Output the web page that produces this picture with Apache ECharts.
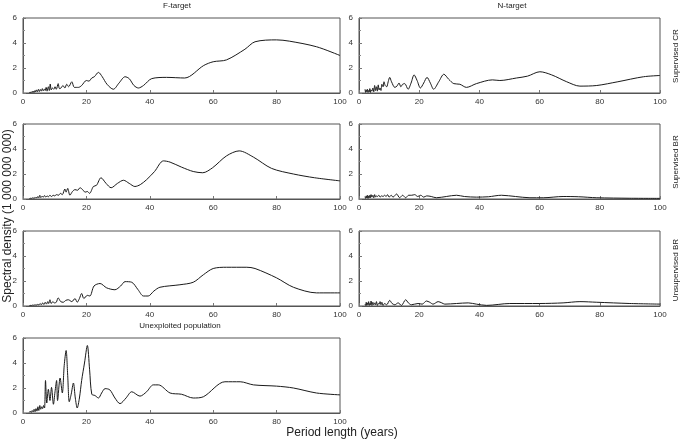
<!DOCTYPE html>
<html><head><meta charset="utf-8">
<script src="https://cdn.jsdelivr.net/npm/echarts@6/dist/echarts.min.js"></script>
<style>html,body{margin:0;padding:0;background:#fff}#c{width:684px;height:443px}</style>
</head><body><div id="c"></div>
<script>
const xTicks = [0, 20, 40, 60, 80, 100];
const yTicks = [0, 2, 4, 6];
const colTitles = ['F-target', 'N-target'];
const rowTitles = ['Supervised CR', 'Supervised BR', 'Unsupervised BR'];
const bottomTitle = 'Unexploited population';
const xTitle = 'Period length (years)';
const yTitle = 'Spectral density (1 000 000 000)';

const fTargetSupCR = [[2,0.02],[2.2,0.08],[2.4,0.03],[2.6,0.1],[2.8,0.04],[3,0.12],[3.2,0.05],[3.4,0.15],[3.6,0.06],[3.8,0.2],[4,0.08],[4.3,0.25],[4.6,0.1],[4.9,0.3],[5.2,0.12],[5.5,0.28],[5.8,0.15],[6.1,0.35],[6.4,0.18],[6.7,0.3],[7,0.2],[7.3,0.45],[7.6,0.15],[8,0.5],[8.3,0.2],[8.6,0.72],[8.9,0.25],[9.3,0.4],[9.7,0.3],[10.1,0.5],[10.5,0.3],[11.1,0.75],[11.5,0.35],[12,0.4],[12.6,0.6],[13.2,0.4],[13.8,0.7],[14.4,0.5],[15.4,0.9],[16.2,0.45],[17.5,0.45],[18.5,0.6],[20,1.0],[20.8,0.95],[21.7,1.2],[22.5,1.3],[23.8,1.65],[25,1.3],[26.5,0.7],[28.5,0.3],[30.3,0.8],[32.2,1.3],[33.5,1.15],[35,0.6],[36.4,0.4],[38,0.6],[40.6,1.15],[45.3,1.25],[51,1.2],[57,2.2],[60,2.5],[64.2,2.65],[70,3.5],[73.2,4.1],[80,4.25],[84,4.15],[92.6,3.7],[100,3.0]];
const nTargetSupCR = [[2,0.3],[2.2,0.05],[2.4,0.25],[2.6,0.1],[2.8,0.3],[3,0.05],[3.2,0.2],[3.4,0.1],[3.6,0.35],[3.8,0.05],[4,0.25],[4.3,0.15],[4.6,0.4],[4.9,0.1],[5.2,0.6],[5.5,0.2],[5.8,0.5],[6.1,0.15],[6.4,0.65],[6.7,0.25],[7,0.4],[7.3,0.2],[7.6,0.7],[8,0.5],[8.3,0.9],[8.7,0.6],[9.2,0.5],[9.7,0.9],[10.2,1.25],[10.8,0.9],[11.9,0.45],[12.6,0.55],[13.3,0.8],[13.9,0.5],[14.5,0.7],[15.2,0.75],[16.3,0.3],[17.3,0.8],[18.3,1.45],[19.3,1.0],[20.4,0.4],[21.5,0.8],[22.6,1.25],[23.7,0.8],[24.8,0.3],[26.5,0.9],[28.2,1.5],[29.8,1.1],[31.5,0.75],[33.5,0.7],[35.7,0.45],[39,0.75],[44.3,1.05],[46.8,1.0],[52.3,1.2],[56,1.35],[60.1,1.7],[64,1.45],[69,0.9],[73.4,0.55],[79,0.6],[86,0.9],[94.5,1.3],[100,1.4]];
const fTargetSupBR = [[2,0.02],[2.3,0.06],[2.6,0.03],[2.9,0.1],[3.2,0.05],[3.5,0.12],[3.8,0.06],[4.1,0.15],[4.4,0.08],[4.7,0.2],[5,0.1],[5.3,0.3],[5.6,0.12],[6,0.22],[6.4,0.15],[6.8,0.28],[7.2,0.15],[7.6,0.25],[8,0.18],[8.5,0.3],[9,0.2],[9.5,0.3],[10,0.25],[10.6,0.35],[11.2,0.3],[11.8,0.45],[12.4,0.35],[13.2,0.8],[13.6,0.55],[14.1,0.85],[14.8,0.3],[15.6,0.6],[16.4,0.75],[17.2,0.7],[18,0.9],[18.8,0.75],[19.6,0.55],[20.3,0.6],[21,0.45],[22.2,1.0],[23.2,1.1],[24.6,1.7],[26.2,1.25],[27.8,0.9],[29.8,1.25],[31.7,1.5],[33.5,1.25],[35.3,1.0],[37,1.15],[39,1.55],[41.5,2.2],[44.3,3.05],[46.4,2.95],[50,2.55],[53.7,2.2],[56.7,2.1],[59.8,2.5],[64.2,3.45],[68.2,3.85],[72.7,3.35],[78.4,2.45],[85.3,2.0],[92,1.7],[100,1.45]];
const nTargetSupBR = [[2,0.2],[2.2,0.05],[2.4,0.25],[2.6,0.08],[2.8,0.3],[3,0.05],[3.2,0.25],[3.4,0.1],[3.6,0.3],[3.8,0.1],[4,0.35],[4.3,0.15],[4.6,0.3],[4.9,0.1],[5.2,0.35],[5.5,0.15],[5.8,0.25],[6.2,0.2],[6.6,0.3],[7,0.15],[7.5,0.25],[8,0.2],[8.5,0.3],[9,0.2],[9.5,0.35],[10,0.15],[10.7,0.3],[11.3,0.15],[12.5,0.4],[13.5,0.1],[14.5,0.3],[15.5,0.1],[16.5,0.3],[17.5,0.3],[18.5,0.35],[19.5,0.2],[20.5,0.3],[21.5,0.15],[22.5,0.25],[24,0.2],[25.7,0.1],[29,0.2],[32.4,0.3],[35,0.2],[39,0.15],[43,0.18],[47.3,0.3],[52,0.2],[56.8,0.1],[61.2,0.1],[67.8,0.2],[73,0.18],[79,0.1],[90,0.06],[100,0.05]];
const fTargetUnsBR = [[2,0.02],[2.3,0.05],[2.6,0.03],[2.9,0.08],[3.2,0.04],[3.5,0.1],[3.8,0.05],[4.1,0.12],[4.4,0.06],[4.7,0.15],[5,0.08],[5.4,0.2],[5.8,0.1],[6.2,0.25],[6.6,0.12],[7,0.3],[7.4,0.15],[7.8,0.35],[8.1,0.2],[8.5,0.5],[8.9,0.2],[9.4,0.35],[9.9,0.25],[10.5,0.3],[11.1,0.65],[11.9,0.35],[12.7,0.3],[13.5,0.45],[14.3,0.5],[15.4,0.35],[16.4,0.6],[17.1,0.3],[17.8,0.6],[18.5,1.0],[19.2,0.6],[20.3,0.85],[21.1,0.8],[22.4,1.6],[24.3,1.8],[26.4,1.45],[29,1.3],[30.8,1.6],[32.2,1.95],[34.3,1.9],[36.3,1.3],[38,0.8],[39.5,0.8],[41.3,1.2],[43.2,1.5],[49.5,1.7],[53.7,1.9],[56.9,2.5],[60,3.0],[64.2,3.1],[70.6,3.1],[73.2,3.0],[80,2.25],[85.3,1.5],[92.6,1.05],[100,1.05]];
const nTargetUnsBR = [[2,0.15],[2.2,0.05],[2.4,0.3],[2.6,0.05],[2.8,0.25],[3,0.1],[3.2,0.35],[3.4,0.05],[3.6,0.2],[3.8,0.1],[4,0.4],[4.3,0.05],[4.6,0.3],[4.9,0.1],[5.2,0.25],[5.5,0.1],[5.8,0.35],[6.1,0.05],[6.4,0.2],[6.7,0.15],[7,0.35],[7.3,0.1],[7.6,0.3],[8,0.05],[8.5,0.2],[9.2,0.1],[10.2,0.45],[11,0.2],[11.9,0.1],[13,0.25],[14.1,0.05],[15.5,0.5],[16.4,0.25],[17.4,0.1],[19.6,0.2],[21,0.15],[22.4,0.4],[23.5,0.3],[24.6,0.15],[26.3,0.35],[27.5,0.25],[28.5,0.15],[32.4,0.2],[36.3,0.25],[39,0.15],[42.4,0.05],[50.1,0.2],[60,0.2],[67.8,0.25],[73.4,0.35],[79,0.3],[90,0.2],[100,0.15]];
const unexploited = [[2,0.05],[2.3,0.15],[2.6,0.05],[2.9,0.2],[3.2,0.08],[3.5,0.3],[3.8,0.1],[4.1,0.35],[4.4,0.15],[4.7,0.5],[5,0.2],[5.3,0.6],[5.6,0.3],[5.9,0.5],[6.2,0.35],[6.5,0.6],[6.8,0.4],[7.1,2.6],[7.5,0.8],[8,1.9],[8.5,1.0],[9,2.05],[9.6,0.7],[10.1,1.7],[10.6,2.6],[10.9,1.0],[11.7,2.8],[12.4,1.6],[13,3.8],[13.6,5.0],[14.1,3.0],[14.6,0.9],[15.2,1.5],[15.9,2.4],[16.5,1.2],[17.1,0.4],[17.8,1.2],[18.5,2.6],[19.4,4.0],[20.3,5.4],[21,3.5],[21.7,1.5],[22.7,1.4],[23.8,1.2],[24.8,1.6],[25.9,1.95],[27.4,1.85],[29,1.2],[30.6,0.75],[32.5,1.2],[34.3,1.7],[36.9,1.35],[39,1.7],[41.1,2.25],[42.7,2.25],[46.4,1.6],[50,1.5],[53.7,1.2],[56.9,1.3],[63.7,2.5],[68.5,2.5],[72.7,2.25],[80,2.15],[85.3,2.0],[92.6,1.6],[100,1.45]];

const panels = [fTargetSupCR, nTargetSupCR, fTargetSupBR, nTargetSupBR, fTargetUnsBR, nTargetUnsBR, unexploited];
const tops = [18, 124, 231, 338];
const FONT = 'Liberation Sans, Arial, sans-serif';

const grids = [], xAxes = [], yAxes = [], series = [];
panels.forEach((d, i) => {
  const row = Math.floor(i / 2), col = i % 2;
  grids.push(col === 0
    ? {left: 23, top: tops[row], width: 317, height: 75, show: true, borderColor: '#555', borderWidth: 1}
    : {left: 359, top: tops[row], width: 301, height: 75, show: true, borderColor: '#555', borderWidth: 1});
  xAxes.push({type: 'value', gridIndex: i, min: xTicks[0], max: xTicks[xTicks.length-1], interval: 20,
    axisLine: {show: true, onZero: false, lineStyle: {color: '#555', width: 1}},
    axisTick: {show: true, inside: true, length: 3, lineStyle: {color: '#777'}},
    minorTick: {show: false},
    splitLine: {show: false},
    axisLabel: {fontSize: 8, color: '#333', margin: 5, fontFamily: FONT}});
  yAxes.push({type: 'value', gridIndex: i, min: yTicks[0], max: yTicks[yTicks.length-1], interval: 2,
    axisLine: {show: true, lineStyle: {color: '#555', width: 1}},
    axisTick: {show: true, inside: true, length: 3, lineStyle: {color: '#777'}},
    minorTick: {show: true, splitNumber: 2, length: 2, lineStyle: {color: '#888'}},
    splitLine: {show: false},
    axisLabel: {fontSize: 8, color: '#333', margin: 6, fontFamily: FONT}});
  series.push({type: 'line', xAxisIndex: i, yAxisIndex: i, data: d, showSymbol: false, symbol: 'none',
    smooth: 0.3, lineStyle: {color: '#1a1a1a', width: 1}, animation: false});
});

const txt = (x, y, s, size, rot) => ({type: 'text', x: x, y: y, rotation: rot || 0,
  style: {text: s, fontSize: size, fill: '#222', fontFamily: FONT, textAlign: 'center', textVerticalAlign: 'middle'}});

const chart = echarts.init(document.getElementById('c'), null, {renderer: 'canvas'});
chart.setOption({
  animation: false,
  grid: grids, xAxis: xAxes, yAxis: yAxes, series: series,
  graphic: [
    txt(177, 6, colTitles[0], 8),
    txt(512, 6, colTitles[1], 8),
    txt(180, 326, bottomTitle, 8),
    txt(676, 56, rowTitles[0], 8, Math.PI/2),
    txt(676, 162, rowTitles[1], 8, Math.PI/2),
    txt(676, 270, rowTitles[2], 8, Math.PI/2),
    txt(8, 216, yTitle, 12, Math.PI/2),
    txt(342, 433, xTitle, 12)
  ]
});
</script></body></html>
